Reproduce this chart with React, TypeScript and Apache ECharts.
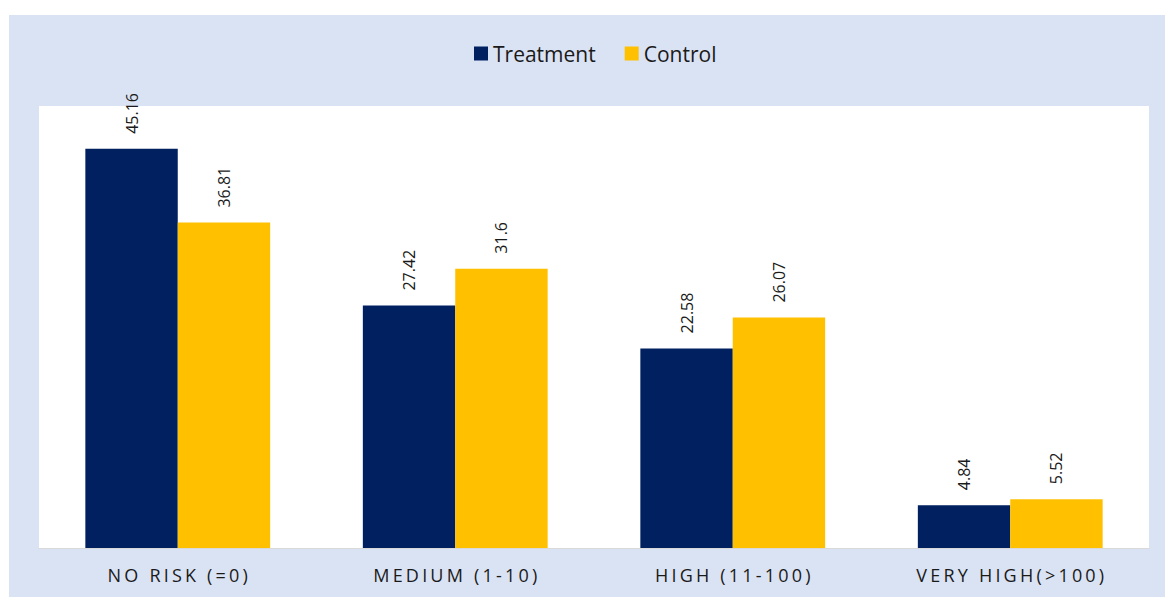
import React, { useEffect, useRef } from "react";
import * as echarts from "echarts";

const categories = ["NO RISK (=0)", "MEDIUM (1-10)", "HIGH (11-100)", "VERY HIGH(>100)"];
const treatment = [45.16, 27.42, 22.58, 4.84];
const control = [36.81, 31.6, 26.07, 5.52];

const FONT = "'Open Sans', 'Liberation Sans', sans-serif";

export default function App() {
  const ref = useRef<HTMLDivElement>(null);

  useEffect(() => {
    if (!ref.current) return;
    const chart = echarts.init(ref.current, null, { renderer: "svg" });
    const label = {
      show: true,
      position: "top",
      rotate: 90,
      align: "left",
      verticalAlign: "middle",
      distance: 15,
      fontSize: 16,
      fontFamily: FONT,
      color: "#1a1a1a",
    };
    chart.setOption({
      animation: false,
      backgroundColor: "#dae3f3",
      graphic: [
        { type: "rect", shape: { x: 0, y: 0, width: 1165, height: 15 }, style: { fill: "#ffffff" } },
        { type: "rect", shape: { x: 0, y: 0, width: 9, height: 597 }, style: { fill: "#ffffff" } },
      ],
      legend: {
        top: 38,
        left: 469,
        icon: "rect",
        itemWidth: 14,
        itemHeight: 14,
        itemGap: 29,
        textStyle: { fontSize: 21, fontFamily: FONT, color: "#1a1a1a" },
        data: ["Treatment", "Control"],
      },
      grid: {
        left: 39,
        right: 16,
        top: 106,
        bottom: 49,
        show: true,
        backgroundColor: "#ffffff",
        borderWidth: 0,
      },
      xAxis: {
        type: "category",
        data: categories,
        axisLine: { lineStyle: { color: "#d9d9d9", width: 1 } },
        axisTick: { show: false },
        axisLabel: { fontSize: 18, fontFamily: FONT, color: "#1a1a1a", margin: 18 },
      },
      yAxis: {
        type: "value",
        min: 0,
        max: 50,
        show: false,
        splitLine: { show: false },
      },
      series: [
        {
          name: "Treatment",
          type: "bar",
          data: treatment,
          barWidth: "33.3%",
          barGap: "0%",
          itemStyle: { color: "#002060" },
          label,
        },
        {
          name: "Control",
          type: "bar",
          data: control,
          barWidth: "33.3%",
          barGap: "0%",
          itemStyle: { color: "#ffc000" },
          label,
        },
      ],
    });

    // Spread out the category axis labels (tracked capitals)
    const texts = ref.current.querySelectorAll("text");
    texts.forEach((t) => {
      if (categories.includes((t.textContent || "").trim())) {
        t.setAttribute("letter-spacing", "3.2");
        t.setAttribute("dx", "1.6");
      }
    });

    return () => chart.dispose();
  }, []);

  return (
    <div
      ref={ref}
      style={{ position: "absolute", left: 0, top: 0, width: 1165, height: 597 }}
    />
  );
}
